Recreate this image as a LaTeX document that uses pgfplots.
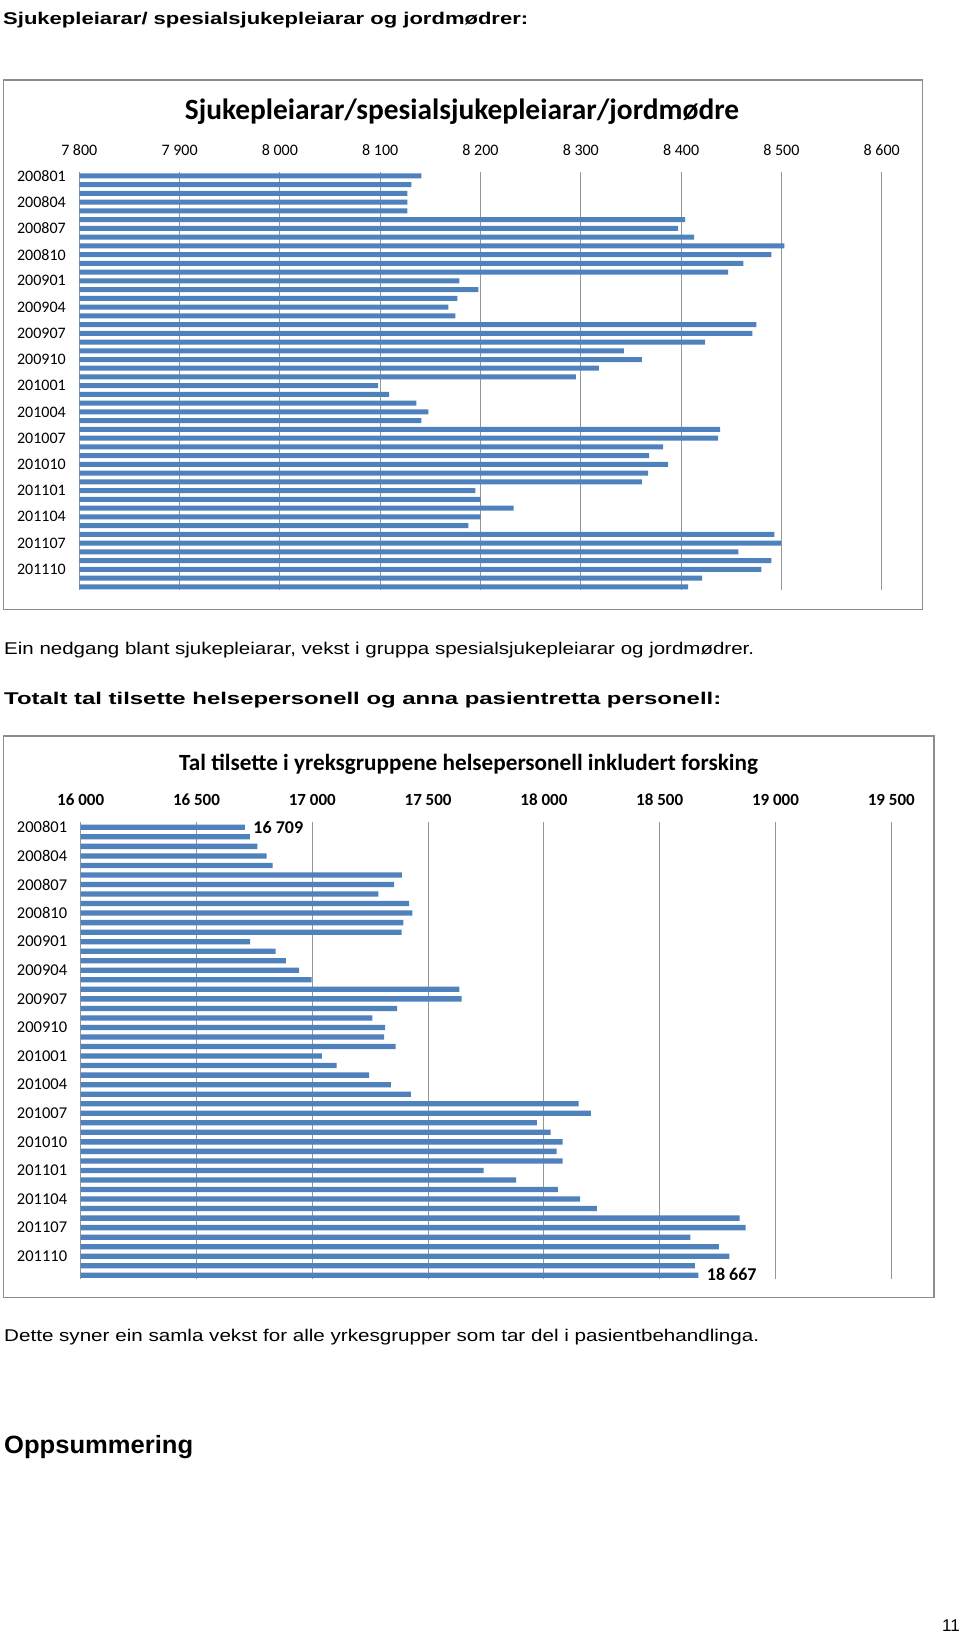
\documentclass[border=0pt]{standalone}
\usepackage{fontspec}
\setmainfont{Liberation Sans}
\newfontfamily\calfont{Carlito}
\usepackage{graphicx}
\usepackage{pgfplots}
\usepackage{pgfplotstable}
\pgfplotsset{compat=1.18}
\definecolor{barblue}{RGB}{79,129,189}
\definecolor{gridgray}{RGB}{150,150,150}
\definecolor{framegray}{RGB}{140,140,140}

\pgfplotstableread{
y v
48 8141
47 8131
46 8127
45 8127
44 8127
43 8404
42 8397
41 8413
40 8503
39 8490
38 8462
37 8447
36 8179
35 8198
34 8177
33 8168
32 8175
31 8475
30 8471
29 8424
28 8343
27 8361
26 8318
25 8295
24 8098
23 8109
22 8136
21 8148
20 8141
19 8439
18 8437
17 8382
16 8368
15 8387
14 8367
13 8361
12 8195
11 8200
10 8233
9 8200
8 8188
7 8493
6 8500
5 8457
4 8490
3 8480
2 8421
1 8407
}\sjuk

\pgfplotstableread{
y v
48 16709
47 16730
46 16763
45 16803
44 16829
43 17387
42 17353
41 17285
40 17418
39 17432
38 17393
37 17386
36 16732
35 16842
34 16886
33 16943
32 16997
31 17635
30 17645
29 17366
28 17259
27 17314
26 17310
25 17360
24 17041
23 17105
22 17245
21 17339
20 17426
19 18150
18 18203
17 17970
16 18029
15 18081
14 18055
13 18081
12 17740
11 17880
10 18060
9 18156
8 18229
7 18845
6 18871
5 18632
4 18755
3 18801
2 18652
1 18667
}\tal

\pgfplotsset{
  excelbar/.style={
    scale only axis, xbar,
    scaled ticks=false,
    axis line style={draw=none}, major tick length=0pt, tick style={draw=none},
    xmajorgrids, grid style={gridgray, line width=1pt},
    xticklabel pos=upper,
    ytick={48,45,...,3},
    yticklabels={200801,200804,200807,200810,200901,200904,200907,200910,201001,201004,201007,201010,201101,201104,201107,201110},
  }
}

\begin{document}
\begin{tikzpicture}
\useasboundingbox (0pt,0pt) rectangle (960pt,1638pt);
\fill[white] (0pt,0pt) rectangle (960pt,1638pt);

% page text
\node[anchor=base west, inner sep=0pt] at (3pt,1613pt) {\resizebox{525pt}{\height}{\fontsize{17}{20}\selectfont\bfseries Sjukepleiarar/ spesialsjukepleiarar og jordmødrer:}};
\node[anchor=base west, inner sep=0pt] at (4pt,983pt) {\resizebox{750pt}{\height}{\fontsize{17}{20}\selectfont Ein nedgang blant sjukepleiarar, vekst i gruppa spesialsjukepleiarar og jordmødrer.}};
\node[anchor=base west, inner sep=0pt] at (4pt,933pt) {\resizebox{717pt}{\height}{\fontsize{17}{20}\selectfont\bfseries Totalt tal tilsette helsepersonell og anna pasientretta personell:}};
\node[anchor=base west, inner sep=0pt] at (4pt,296pt) {\resizebox{755pt}{\height}{\fontsize{17}{20}\selectfont Dette syner ein samla vekst for alle yrkesgrupper som tar del i pasientbehandlinga.}};
\node[anchor=base west, inner sep=0pt] at (4pt,184.5pt) {\resizebox{189pt}{\height}{\fontsize{25}{30}\selectfont\bfseries Oppsummering}};
\node[anchor=base east, inner sep=0pt] at (960pt,6pt) {\fontsize{17}{20}\selectfont 11};

% frames
\draw[framegray, line width=1.3pt] (3.3pt,1558pt) rectangle (922.3pt,1028.7pt);
\draw[framegray, line width=1.3pt] (3.3pt,902pt) rectangle (934pt,340.3pt);

% titles
\node[anchor=base, inner sep=0pt] at (462pt,1518pt) {\calfont\fontsize{29.4}{34}\selectfont\bfseries Sjukepleiarar/spesialsjukepleiarar/jordmødre};
\node[anchor=base, inner sep=0pt] at (468.6pt,867.3pt) {\calfont\fontsize{23.2}{27}\selectfont\bfseries Tal tilsette i yreksgruppene helsepersonell inkludert forsking};

\begin{axis}[excelbar, at={(79.3pt,1048pt)}, anchor=south west,
  width=802.4pt, height=418.3pt,
  xmin=7800, xmax=8600, ymin=0.63, ymax=48.49,
  bar width=5pt,
  xtick={7800,7900,8000,8100,8200,8300,8400,8500,8600},
  xticklabels={7 800,7 900,8 000,8 100,8 200,8 300,8 400,8 500,8 600},
  xticklabel style={font=\calfont\fontsize{16}{19}\selectfont, anchor=base, yshift=15.7pt},
  yticklabel style={font=\calfont\fontsize{16}{19}\selectfont, anchor=east, xshift=-10pt},
]
\addplot[fill=barblue, draw=none] table[x=v,y=y]{\sjuk};
\end{axis}

\begin{axis}[excelbar, at={(80.7pt,358.7pt)}, anchor=south west,
  width=810.6pt, height=457.6pt,
  xmin=16000, xmax=19500, ymin=0.58, ymax=48.59,
  bar width=5.3pt,
  xtick={16000,16500,17000,17500,18000,18500,19000,19500},
  xticklabels={16 000,16 500,17 000,17 500,18 000,18 500,19 000,19 500},
  xticklabel style={font=\calfont\fontsize{17}{20}\selectfont\bfseries, anchor=base, yshift=15.7pt},
  yticklabel style={font=\calfont\fontsize{16.5}{19}\selectfont, anchor=east, xshift=-10pt},
]
\addplot[fill=barblue, draw=none] table[x=v,y=y]{\tal};
\node[anchor=west, xshift=5pt, font=\calfont\fontsize{18}{21}\selectfont\bfseries] at (axis cs:16709,48) {16 709};
\node[anchor=west, xshift=5pt, yshift=0.5pt, font=\calfont\fontsize{18}{21}\selectfont\bfseries] at (axis cs:18667,1) {18 667};
\end{axis}
\end{tikzpicture}
\end{document}
